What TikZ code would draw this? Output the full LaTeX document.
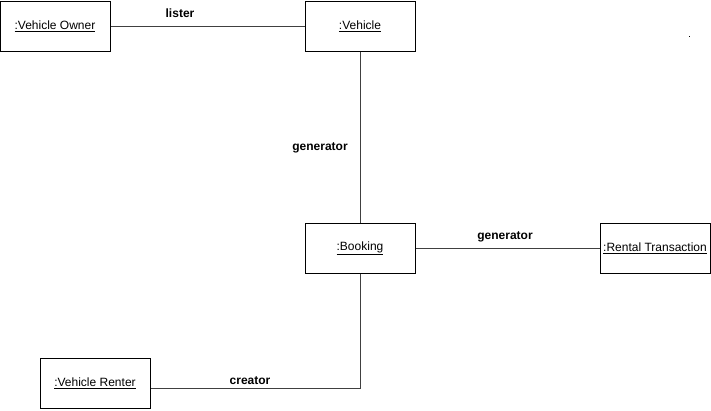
\documentclass[tikz,border=0pt]{standalone}
\usepackage{fontspec}
\setmainfont{Liberation Sans}
\begin{document}
\begin{tikzpicture}[x=1pt,y=-1pt,
  obj/.style={draw=black,line width=1pt,minimum width=110pt,minimum height=50pt,inner sep=0pt,font=\fontsize{12}{14}\selectfont},
  conn/.style={draw=black!75,line width=1pt},
  lbl/.style={font=\fontsize{12}{14}\selectfont\bfseries,inner sep=0pt}]
\useasboundingbox (0,0) rectangle (711,410);
\node[obj] (owner) at (55,26) {\underline{:Vehicle Owner}};
\node[obj] (vehicle) at (360,26) {\underline{:Vehicle}};
\node[obj] (booking) at (360,248) {\underline{:Booking}};
\node[obj] (rental) at (655,248) {\underline{:Rental Transaction}};
\node[obj] (renter) at (95,383) {\underline{:Vehicle Renter}};
\coordinate (corner) at (360,388);
\draw[conn] (owner.east) -- (vehicle.west);
\draw[conn] (vehicle.south) -- (booking.north);
\draw[conn] (booking.east) -- (rental.west);
\draw[conn] (booking.south) -- (corner) -- (renter.east |- corner);
\node[lbl] (l1) at (180,13) {lister};
\node[lbl] (l2) at (320,148) {generator};
\node[lbl] (l3) at (505,237) {generator};
\node[lbl] (l4) at (250,381) {creator};
\fill[black] (689,35.5) rectangle (690.2,36.7);
\end{tikzpicture}
\end{document}
